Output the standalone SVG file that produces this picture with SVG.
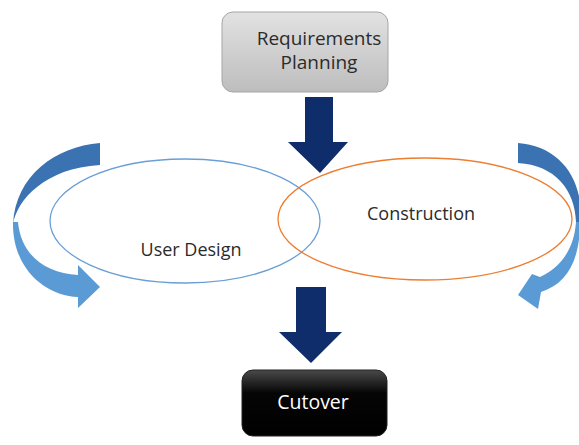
<svg xmlns="http://www.w3.org/2000/svg" width="579" height="445" viewBox="0 0 579 445">
<defs>
<linearGradient id="gGray" x1="0" y1="0" x2="0" y2="1">
<stop offset="0" stop-color="#e2e2e2"/>
<stop offset="1" stop-color="#bdbdbd"/>
</linearGradient>
<linearGradient id="gBlack" x1="0" y1="0" x2="0" y2="1">
<stop offset="0" stop-color="#4a4a4a"/>
<stop offset="0.35" stop-color="#050505"/>
<stop offset="1" stop-color="#000000"/>
</linearGradient>
<style>
.lbl{font-family:"Open Sans","Liberation Sans",sans-serif;font-size:18px;text-anchor:middle;fill:#2b2b2b}
.bigArrow{fill:#0f2d6b}
.dark{fill:#3a72b2}
.light{fill:#5b9bd5}
</style>
</defs>
<rect width="579" height="445" fill="#ffffff"/>

<g id="user-design">
<ellipse cx="185" cy="221" rx="135" ry="62" fill="none" stroke="#6a9fd6" stroke-width="1.3"/>
<text class="lbl" x="191" y="256">User Design</text>
</g>
<g id="construction">
<ellipse cx="425" cy="219" rx="147" ry="61" fill="none" stroke="#ed7d31" stroke-width="1.3"/>
<text class="lbl" x="421" y="220">Construction</text>
</g>

<g id="requirements-planning">
<rect x="222" y="12" width="166" height="80" rx="11" fill="url(#gGray)" stroke="#a6a6a6" stroke-width="1"/>
<text class="lbl" x="319" y="45" style="font-size:19px">Requirements</text>
<text class="lbl" x="319" y="69" style="font-size:19px">Planning</text>
</g>

<g id="cutover">
<rect x="242" y="370" width="145" height="66" rx="11" fill="url(#gBlack)" stroke="#222" stroke-width="1"/>
<text class="lbl" x="313" y="409" style="fill:#ffffff;font-size:19.5px">Cutover</text>
</g>

<g id="connectors">
<path class="bigArrow" d="M305,97 L333,97 L333,142 L348,142 L320,173 L288,142 L305,142 Z"/>
<path class="bigArrow" d="M296,287 L326,287 L326,332 L342,332 L311,363 L279,332 L296,332 Z"/>
<path class="dark" d="M100,143 C 55,147 16,175 13,224 C 17,200 45,168 100,165 Z"/>
<path class="light" d="M13,222 C 12,268 45,296 78,297 L78,308 L100,287 L78,265 L78,275 C 45,273 21,255 18,222 Z"/>
<path class="dark" d="M518,143 C 560,146 585,180 580,224 L576,222 C 575,190 555,165 518,163 Z"/>
<path class="light" d="M580,222 C 580,262 566,284 541,292 L538,309 L518,295 L532,274 L540,277 C 560,268 574,250 576,222 Z"/>
</g>
</svg>
